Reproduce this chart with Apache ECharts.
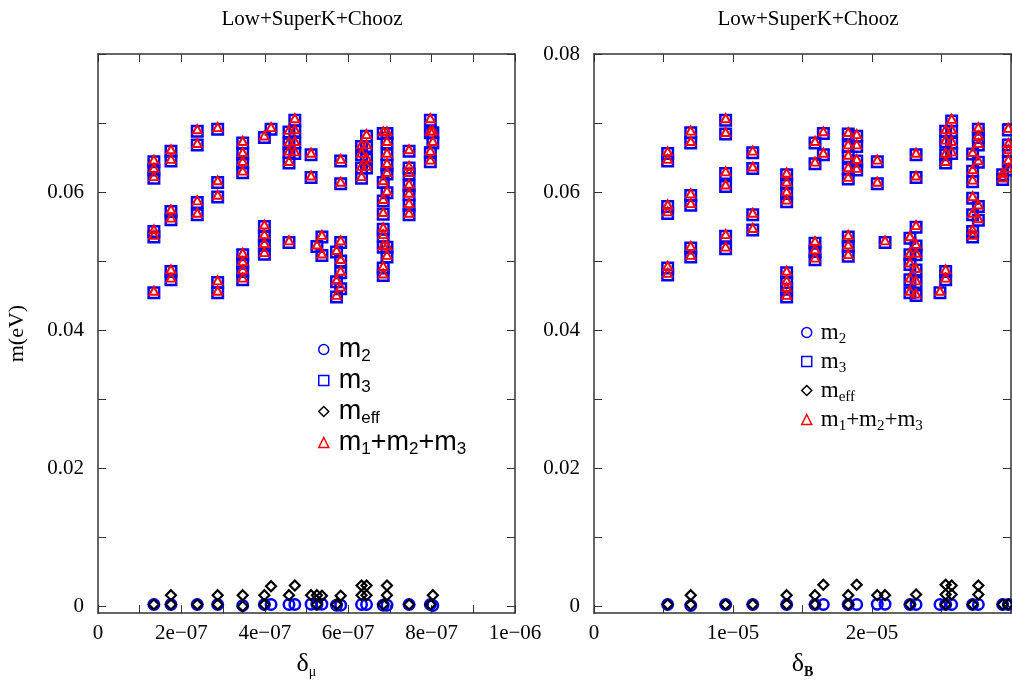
<!DOCTYPE html>
<html>
<head>
<meta charset="utf-8">
<script src="https://cdn.jsdelivr.net/npm/echarts@6/dist/echarts.min.js"></script>
<style>
html,body{margin:0;padding:0;background:#fff;}
#chart{width:1012px;height:684px;}
</style>
</head>
<body>
<div id="chart"></div>
<script>
// ---------- data ----------
const panelTitles = ['Low+SuperK+Chooz', 'Low+SuperK+Chooz'];

// left panel: x = delta_mu
const leftM3 = [
  [1.34e-7,0.0644],[1.34e-7,0.0632],[1.34e-7,0.0620],[1.34e-7,0.0543],[1.34e-7,0.0535],[1.34e-7,0.0454],
  [1.75e-7,0.0659],[1.75e-7,0.0645],[1.75e-7,0.0572],[1.75e-7,0.0560],[1.75e-7,0.0485],[1.75e-7,0.0473],
  [2.38e-7,0.0688],[2.38e-7,0.0668],[2.38e-7,0.0585],[2.38e-7,0.0567],
  [2.87e-7,0.0691],[2.87e-7,0.0614],[2.87e-7,0.0593],[2.87e-7,0.0469],[2.87e-7,0.0454],
  [3.47e-7,0.0671],[3.47e-7,0.0655],[3.47e-7,0.0642],[3.47e-7,0.0628],[3.47e-7,0.0509],[3.47e-7,0.0497],[3.47e-7,0.0485],[3.47e-7,0.0473],
  [3.99e-7,0.0679],[3.99e-7,0.0550],[3.99e-7,0.0536],[3.99e-7,0.0523],[3.99e-7,0.0510],
  [4.15e-7,0.0691],
  [4.58e-7,0.0687],[4.58e-7,0.0670],[4.58e-7,0.0657],[4.58e-7,0.0642],[4.58e-7,0.0527],
  [4.72e-7,0.0704],[4.72e-7,0.0688],[4.72e-7,0.0671],[4.72e-7,0.0656],
  [5.11e-7,0.0654],[5.11e-7,0.0621],
  [5.25e-7,0.0521],
  [5.37e-7,0.0535],[5.37e-7,0.0508],
  [5.72e-7,0.0513],[5.72e-7,0.0470],[5.72e-7,0.0448],
  [5.82e-7,0.0645],[5.82e-7,0.0612],[5.82e-7,0.0527],[5.82e-7,0.0500],[5.82e-7,0.0483],[5.82e-7,0.0460],
  [6.32e-7,0.0666],[6.32e-7,0.0654],[6.32e-7,0.0635],[6.32e-7,0.0620],
  [6.44e-7,0.0681],[6.44e-7,0.0666],[6.44e-7,0.0647],[6.44e-7,0.0635],
  [6.84e-7,0.0685],[6.84e-7,0.0614],[6.84e-7,0.0587],[6.84e-7,0.0568],[6.84e-7,0.0546],[6.84e-7,0.0536],[6.84e-7,0.0520],[6.84e-7,0.0490],[6.84e-7,0.0479],
  [6.93e-7,0.0685],[6.93e-7,0.0671],[6.93e-7,0.0654],[6.93e-7,0.0639],[6.93e-7,0.0626],[6.93e-7,0.0599],[6.93e-7,0.0520],[6.93e-7,0.0506],
  [7.46e-7,0.0659],[7.46e-7,0.0635],[7.46e-7,0.0626],[7.46e-7,0.0609],[7.46e-7,0.0596],[7.46e-7,0.0581],[7.46e-7,0.0567],
  [7.97e-7,0.0704],[7.97e-7,0.0686],[7.97e-7,0.0657],[7.97e-7,0.0644],
  [8.03e-7,0.0686],[8.03e-7,0.0671]
];
const leftSum = [
  [1.34e-7,0.0647],[1.34e-7,0.0635],[1.34e-7,0.0623],[1.34e-7,0.0546],[1.34e-7,0.0538],[1.34e-7,0.0457],
  [1.75e-7,0.0662],[1.75e-7,0.0648],[1.75e-7,0.0575],[1.75e-7,0.0563],[1.75e-7,0.0488],[1.75e-7,0.0476],
  [2.38e-7,0.0691],[2.38e-7,0.0671],[2.38e-7,0.0588],[2.38e-7,0.0570],
  [2.87e-7,0.0694],[2.87e-7,0.0617],[2.87e-7,0.0596],[2.87e-7,0.0472],[2.87e-7,0.0457],
  [3.47e-7,0.0674],[3.47e-7,0.0658],[3.47e-7,0.0645],[3.47e-7,0.0631],[3.47e-7,0.0512],[3.47e-7,0.0500],[3.47e-7,0.0488],[3.47e-7,0.0476],
  [3.99e-7,0.0682],[3.99e-7,0.0553],[3.99e-7,0.0539],[3.99e-7,0.0526],[3.99e-7,0.0513],
  [4.15e-7,0.0694],
  [4.58e-7,0.0690],[4.58e-7,0.0673],[4.58e-7,0.0660],[4.58e-7,0.0645],[4.58e-7,0.0530],
  [4.72e-7,0.0707],[4.72e-7,0.0691],[4.72e-7,0.0674],[4.72e-7,0.0659],
  [5.11e-7,0.0657],[5.11e-7,0.0624],
  [5.25e-7,0.0524],
  [5.37e-7,0.0538],[5.37e-7,0.0511],
  [5.72e-7,0.0516],[5.72e-7,0.0473],[5.72e-7,0.0451],
  [5.82e-7,0.0648],[5.82e-7,0.0615],[5.82e-7,0.0530],[5.82e-7,0.0503],[5.82e-7,0.0486],[5.82e-7,0.0463],
  [6.32e-7,0.0669],[6.32e-7,0.0657],[6.32e-7,0.0638],[6.32e-7,0.0623],
  [6.44e-7,0.0684],[6.44e-7,0.0669],[6.44e-7,0.0650],[6.44e-7,0.0638],
  [6.84e-7,0.0688],[6.84e-7,0.0617],[6.84e-7,0.0590],[6.84e-7,0.0571],[6.84e-7,0.0549],[6.84e-7,0.0539],[6.84e-7,0.0523],[6.84e-7,0.0493],[6.84e-7,0.0482],
  [6.93e-7,0.0688],[6.93e-7,0.0674],[6.93e-7,0.0657],[6.93e-7,0.0642],[6.93e-7,0.0629],[6.93e-7,0.0602],[6.93e-7,0.0523],[6.93e-7,0.0509],
  [7.46e-7,0.0662],[7.46e-7,0.0638],[7.46e-7,0.0629],[7.46e-7,0.0612],[7.46e-7,0.0599],[7.46e-7,0.0584],[7.46e-7,0.0570],
  [7.97e-7,0.0707],[7.97e-7,0.0689],[7.97e-7,0.0660],[7.97e-7,0.0647],
  [8.03e-7,0.0689],[8.03e-7,0.0674]
];
const leftM2 = [
  [1.34e-7,0.00025],[1.75e-7,0.00025],[2.38e-7,0.00025],[2.87e-7,0.00025],[3.47e-7,0.0001],
  [3.99e-7,0.00025],[4.15e-7,0.00025],[4.58e-7,0.00025],[4.72e-7,0.00025],[5.11e-7,0.0003],
  [5.25e-7,0.0003],[5.37e-7,0.0003],[5.72e-7,0.00015],[5.82e-7,0.00015],[6.32e-7,0.00025],
  [6.44e-7,0.00025],[6.84e-7,0.00015],[6.93e-7,0.00015],[7.46e-7,0.00025],[7.97e-7,0.00025],[8.03e-7,0.0001]
];
const leftMeff = [
  [1.34e-7,0.00025],[1.75e-7,0.00025],[1.75e-7,0.0016],[2.38e-7,0.00025],[2.87e-7,0.00025],[2.87e-7,0.0016],
  [3.47e-7,0.0000],[3.47e-7,0.0016],[3.99e-7,0.00025],[3.99e-7,0.0016],[4.15e-7,0.0029],[4.58e-7,0.0016],
  [4.72e-7,0.0030],[5.11e-7,0.0016],[5.25e-7,0.00025],[5.25e-7,0.0016],[5.37e-7,0.0015],[5.72e-7,0.00025],
  [5.82e-7,0.0015],[6.32e-7,0.0016],[6.32e-7,0.0030],[6.44e-7,0.0016],[6.44e-7,0.0030],[6.84e-7,0.00025],
  [6.93e-7,0.0016],[6.93e-7,0.0030],[7.46e-7,0.00025],[7.97e-7,0.00025],[8.03e-7,0.0016]
];

// right panel: x = delta_B
const rightM3 = [
  [5.30e-6,0.0656],[5.30e-6,0.0645],[5.30e-6,0.0579],[5.30e-6,0.0569],[5.30e-6,0.0490],[5.30e-6,0.0480],
  [6.96e-6,0.0686],[6.96e-6,0.0671],[6.96e-6,0.0595],[6.96e-6,0.0581],[6.96e-6,0.0519],[6.96e-6,0.0506],
  [9.47e-6,0.0704],[9.47e-6,0.0684],[9.47e-6,0.0627],[9.47e-6,0.0608],[9.47e-6,0.0536],[9.47e-6,0.0518],
  [1.142e-5,0.0657],[1.142e-5,0.0634],[1.142e-5,0.0567],[1.142e-5,0.0545],
  [1.386e-5,0.0625],[1.386e-5,0.0612],[1.386e-5,0.0598],[1.386e-5,0.0586],[1.386e-5,0.0483],[1.386e-5,0.0469],[1.386e-5,0.0459],[1.386e-5,0.0448],
  [1.590e-5,0.0671],[1.590e-5,0.0641],[1.590e-5,0.0526],[1.590e-5,0.0514],[1.590e-5,0.0502],
  [1.650e-5,0.0685],[1.650e-5,0.0654],
  [1.829e-5,0.0684],[1.829e-5,0.0666],[1.829e-5,0.0651],[1.829e-5,0.0633],[1.829e-5,0.0619],[1.829e-5,0.0535],[1.829e-5,0.0521],[1.829e-5,0.0507],
  [1.890e-5,0.0681],[1.890e-5,0.0666],[1.890e-5,0.0645],[1.890e-5,0.0632],
  [2.038e-5,0.0644],[2.038e-5,0.0612],
  [2.094e-5,0.0527],
  [2.273e-5,0.0533],[2.273e-5,0.0509],[2.273e-5,0.0495],[2.273e-5,0.0473],[2.273e-5,0.0454],
  [2.317e-5,0.0654],[2.317e-5,0.0621],[2.317e-5,0.0549],[2.317e-5,0.0522],[2.317e-5,0.0509],[2.317e-5,0.0487],[2.317e-5,0.0469],[2.317e-5,0.0450],
  [2.489e-5,0.0454],
  [2.530e-5,0.0688],[2.530e-5,0.0673],[2.530e-5,0.0654],[2.530e-5,0.0642],[2.530e-5,0.0485],[2.530e-5,0.0473],
  [2.573e-5,0.0703],[2.573e-5,0.0688],[2.573e-5,0.0671],[2.573e-5,0.0656],
  [2.724e-5,0.0655],[2.724e-5,0.0630],[2.724e-5,0.0615],[2.724e-5,0.0591],[2.724e-5,0.0567],[2.724e-5,0.0543],[2.724e-5,0.0535],
  [2.765e-5,0.0691],[2.765e-5,0.0679],[2.765e-5,0.0668],[2.765e-5,0.0643],[2.765e-5,0.0579],[2.765e-5,0.0559],
  [2.940e-5,0.0625],[2.940e-5,0.0618],
  [2.981e-5,0.0690],[2.981e-5,0.0668],[2.981e-5,0.0659],[2.981e-5,0.0644],[2.981e-5,0.0632]
];
const rightSum = [
  [5.30e-6,0.0659],[5.30e-6,0.0648],[5.30e-6,0.0582],[5.30e-6,0.0572],[5.30e-6,0.0493],[5.30e-6,0.0483],
  [6.96e-6,0.0689],[6.96e-6,0.0674],[6.96e-6,0.0598],[6.96e-6,0.0584],[6.96e-6,0.0522],[6.96e-6,0.0509],
  [9.47e-6,0.0707],[9.47e-6,0.0687],[9.47e-6,0.0630],[9.47e-6,0.0611],[9.47e-6,0.0539],[9.47e-6,0.0521],
  [1.142e-5,0.0660],[1.142e-5,0.0637],[1.142e-5,0.0570],[1.142e-5,0.0548],
  [1.386e-5,0.0628],[1.386e-5,0.0615],[1.386e-5,0.0601],[1.386e-5,0.0589],[1.386e-5,0.0486],[1.386e-5,0.0472],[1.386e-5,0.0462],[1.386e-5,0.0451],
  [1.590e-5,0.0674],[1.590e-5,0.0644],[1.590e-5,0.0529],[1.590e-5,0.0517],[1.590e-5,0.0505],
  [1.650e-5,0.0688],[1.650e-5,0.0657],
  [1.829e-5,0.0687],[1.829e-5,0.0669],[1.829e-5,0.0654],[1.829e-5,0.0636],[1.829e-5,0.0622],[1.829e-5,0.0538],[1.829e-5,0.0524],[1.829e-5,0.0510],
  [1.890e-5,0.0684],[1.890e-5,0.0669],[1.890e-5,0.0648],[1.890e-5,0.0635],
  [2.038e-5,0.0647],[2.038e-5,0.0615],
  [2.094e-5,0.0530],
  [2.273e-5,0.0536],[2.273e-5,0.0512],[2.273e-5,0.0498],[2.273e-5,0.0476],[2.273e-5,0.0457],
  [2.317e-5,0.0657],[2.317e-5,0.0624],[2.317e-5,0.0552],[2.317e-5,0.0525],[2.317e-5,0.0512],[2.317e-5,0.0490],[2.317e-5,0.0472],[2.317e-5,0.0453],
  [2.489e-5,0.0457],
  [2.530e-5,0.0691],[2.530e-5,0.0676],[2.530e-5,0.0657],[2.530e-5,0.0645],[2.530e-5,0.0488],[2.530e-5,0.0476],
  [2.573e-5,0.0706],[2.573e-5,0.0691],[2.573e-5,0.0674],[2.573e-5,0.0659],
  [2.724e-5,0.0658],[2.724e-5,0.0633],[2.724e-5,0.0618],[2.724e-5,0.0594],[2.724e-5,0.0570],[2.724e-5,0.0546],[2.724e-5,0.0538],
  [2.765e-5,0.0694],[2.765e-5,0.0682],[2.765e-5,0.0671],[2.765e-5,0.0646],[2.765e-5,0.0582],[2.765e-5,0.0562],
  [2.940e-5,0.0628],[2.940e-5,0.0621],
  [2.981e-5,0.0693],[2.981e-5,0.0671],[2.981e-5,0.0662],[2.981e-5,0.0647],[2.981e-5,0.0635]
];
const rightM2 = [
  [5.30e-6,0.00025],[6.96e-6,0.0001],[9.47e-6,0.00025],[1.142e-5,0.00025],[1.386e-5,0.00025],
  [1.590e-5,0.00025],[1.650e-5,0.00025],[1.829e-5,0.00025],[1.890e-5,0.00025],[2.038e-5,0.0003],
  [2.094e-5,0.0003],[2.273e-5,0.00025],[2.317e-5,0.00025],[2.489e-5,0.00025],[2.530e-5,0.00025],
  [2.573e-5,0.00025],[2.724e-5,0.00025],[2.765e-5,0.00025],[2.940e-5,0.00025],[2.981e-5,0.00025]
];
const rightMeff = [
  [5.30e-6,0.00025],[6.96e-6,0.0002],[6.96e-6,0.0016],[9.47e-6,0.00025],[1.142e-5,0.00025],
  [1.386e-5,0.00025],[1.386e-5,0.0016],[1.590e-5,0.00025],[1.590e-5,0.0016],[1.650e-5,0.0031],
  [1.829e-5,0.00025],[1.829e-5,0.0016],[1.890e-5,0.0031],[2.038e-5,0.0016],[2.094e-5,0.0016],
  [2.273e-5,0.00025],[2.317e-5,0.0017],[2.530e-5,0.00025],[2.530e-5,0.0017],[2.530e-5,0.0031],
  [2.573e-5,0.0017],[2.573e-5,0.0030],[2.724e-5,0.00025],[2.765e-5,0.0017],[2.765e-5,0.0030],
  [2.940e-5,0.00025],[2.981e-5,0.00025]
];

// axes / ticks
const yRange = [-0.001, 0.08];
const yTickValues = [0, 0.01, 0.02, 0.03, 0.04, 0.05, 0.06, 0.07, 0.08];
const yLabelsLeft = [0, 0.02, 0.04, 0.06];
const yLabelsRight = [0, 0.02, 0.04, 0.06, 0.08];
const xRangeLeft = [0, 1e-6];
const xTicksLeft = [0, 1e-7, 2e-7, 3e-7, 4e-7, 5e-7, 6e-7, 7e-7, 8e-7, 9e-7, 1e-6];
const xLabelsLeft = [0, 2e-7, 4e-7, 6e-7, 8e-7, 1e-6];
const xRangeRight = [0, 3e-5];
const xTicksRight = [0, 5e-6, 1e-5, 1.5e-5, 2e-5, 2.5e-5, 3e-5];
const xLabelsRight = [0, 1e-5, 2e-5];
const seriesNames = ['m2', 'm3', 'meff', 'sum'];

// ---------- chart ----------
const SERIF = 'Liberation Serif';
const SANS = 'Liberation Sans';
const AXIS_COLOR = '#333';
const BLUE = '#0000ff';
const RED = '#ff0000';
const BLACK = '#000000';
const NOFILL = 'rgba(0,0,0,0)';

function expFmt(v) {
  if (Math.abs(v) < 1e-15) return '0';
  const s = v.toExponential(0).split('e');
  const e = parseInt(s[1], 10);
  const ae = Math.abs(e);
  return s[0] + 'e' + (e < 0 ? '\u2212' : '+') + (ae < 10 ? '0' + ae : '' + ae);
}
function yFmt(v) {
  if (Math.abs(v) < 1e-12) return '0';
  return String(Math.round(v * 1000) / 1000);
}

const grids = [
  { left: 98, top: 54, width: 417, height: 560 },
  { left: 594, top: 54, width: 417, height: 560 }
];

function xAxisDef(gi, range, ticks, labels, pos, nameRich) {
  const a = {
    type: 'value', gridIndex: gi, min: range[0], max: range[1], position: pos,
    splitLine: { show: false },
    axisLine: { show: true, onZero: false, lineStyle: { color: AXIS_COLOR, width: 1.5 } },
    axisTick: { show: true, inside: true, length: 8, customValues: ticks, lineStyle: { color: AXIS_COLOR, width: 1 } },
    axisLabel: { show: pos === 'bottom', customValues: labels, formatter: expFmt, margin: 10,
                 fontFamily: SERIF, fontSize: 21, color: '#000' }
  };
  if (nameRich) {
    a.name = nameRich;
    a.nameLocation = 'middle';
    a.nameGap = 35;
    a.nameTextStyle = {
      fontFamily: SERIF, color: '#000',
      rich: {
        d: { fontFamily: SERIF, fontSize: 26, lineHeight: 30, color: '#000' },
        s: { fontFamily: SERIF, fontSize: 14, lineHeight: 12, padding: [16, 0, 0, 0], color: '#000' },
        b: { fontFamily: SERIF, fontSize: 14, fontWeight: 'bold', lineHeight: 12, padding: [16, 0, 0, 0], color: '#000' }
      }
    };
  }
  return a;
}
function yAxisDef(gi, labels, pos, withName) {
  const a = {
    type: 'value', gridIndex: gi, min: yRange[0], max: yRange[1], position: pos,
    splitLine: { show: false },
    axisLine: { show: true, onZero: false, lineStyle: { color: AXIS_COLOR, width: 1.5 } },
    axisTick: { show: true, inside: true, length: 8, customValues: yTickValues, lineStyle: { color: AXIS_COLOR, width: 1 } },
    axisLabel: { show: pos === 'left', customValues: labels, formatter: yFmt, margin: 14,
                 fontFamily: SERIF, fontSize: 21, color: '#000' }
  };
  if (withName) {
    a.name = 'm(eV)';
    a.nameLocation = 'middle';
    a.nameGap = 70;
    a.nameRotate = 90;
    a.nameTextStyle = { fontFamily: SERIF, fontSize: 22, color: '#000' };
  }
  return a;
}

function scatter(name, data, idx, symbol, size, color, bw, z) {
  return {
    type: 'scatter', name: name, data: data, xAxisIndex: idx, yAxisIndex: idx,
    symbol: symbol, symbolSize: size, z: z, clip: false,
    itemStyle: { color: NOFILL, borderColor: color, borderWidth: bw, opacity: 1 },
    emphasis: { disabled: true }, animation: false
  };
}

function legendDef(left, top, font, mainSize, subSize, gap, textShift) {
  const mk = (name, icon, color) => ({ name: name, icon: icon,
    itemStyle: { color: NOFILL, borderColor: color, borderWidth: 1.5 } });
  const labelMap = {
    m2: '{f|m}{s|2}', m3: '{f|m}{s|3}', meff: '{f|m}{s|eff}',
    sum: '{f|m}{s|1}{m|+m}{s|2}{m|+m}{s|3}'
  };
  return {
    orient: 'vertical', left: left, top: top, itemWidth: 10, itemHeight: 10, itemGap: gap,
    padding: 0, selectedMode: true,
    data: [mk('m2', 'circle', BLUE), mk('m3', 'rect', BLUE), mk('meff', 'diamond', BLACK), mk('sum', 'triangle', RED)],
    formatter: n => labelMap[n],
    textStyle: {
      fontFamily: font, color: '#000',
      rich: {
        f: { fontFamily: font, fontSize: mainSize, lineHeight: 30, padding: [0, 0, 0, textShift], color: '#000' },
        m: { fontFamily: font, fontSize: mainSize, lineHeight: 30, color: '#000' },
        s: { fontFamily: font, fontSize: subSize, lineHeight: 12, padding: [14, 0, 0, 0], color: '#000' }
      }
    }
  };
}

const chart = echarts.init(document.getElementById('chart'), null, { renderer: 'canvas' });
chart.setOption({
  backgroundColor: '#fff',
  animation: false,
  title: [
    { text: panelTitles[0], left: 307, top: 4, textAlign: 'center',
      textStyle: { fontFamily: SERIF, fontSize: 21, fontWeight: 'normal', color: '#000' } },
    { text: panelTitles[1], left: 803, top: 4, textAlign: 'center',
      textStyle: { fontFamily: SERIF, fontSize: 21, fontWeight: 'normal', color: '#000' } }
  ],
  grid: grids,
  xAxis: [
    xAxisDef(0, xRangeLeft, xTicksLeft, xLabelsLeft, 'bottom', '{d|\u03b4}{s|\u03bc}'),
    xAxisDef(0, xRangeLeft, xTicksLeft, xLabelsLeft, 'top', null),
    xAxisDef(1, xRangeRight, xTicksRight, xLabelsRight, 'bottom', '{d|\u03b4}{b|B}'),
    xAxisDef(1, xRangeRight, xTicksRight, xLabelsRight, 'top', null)
  ],
  yAxis: [
    yAxisDef(0, yLabelsLeft, 'left', true),
    yAxisDef(0, yLabelsLeft, 'right', false),
    yAxisDef(1, yLabelsRight, 'left', false),
    yAxisDef(1, yLabelsRight, 'right', false)
  ],
  legend: [
    legendDef(318, 334, SANS, 27, 17, 0, 5),
    legendDef(801, 318, SERIF, 23, 15, 0, 4)
  ],
  series: [
    scatter(seriesNames[0], leftM2, 0, 'circle', 10.5, BLUE, 2.5, 2),
    scatter(seriesNames[1], leftM3, 0, 'rect', 10.5, BLUE, 2.5, 2),
    scatter(seriesNames[2], leftMeff, 0, 'diamond', 10, BLACK, 2.2, 3),
    scatter(seriesNames[3], leftSum, 0, 'triangle', [9, 8], RED, 2, 4),
    scatter(seriesNames[0], rightM2, 2, 'circle', 10.5, BLUE, 2.5, 2),
    scatter(seriesNames[1], rightM3, 2, 'rect', 10.5, BLUE, 2.5, 2),
    scatter(seriesNames[2], rightMeff, 2, 'diamond', 10, BLACK, 2.2, 3),
    scatter(seriesNames[3], rightSum, 2, 'triangle', [9, 8], RED, 2, 4)
  ]
});
</script>
</body>
</html>
